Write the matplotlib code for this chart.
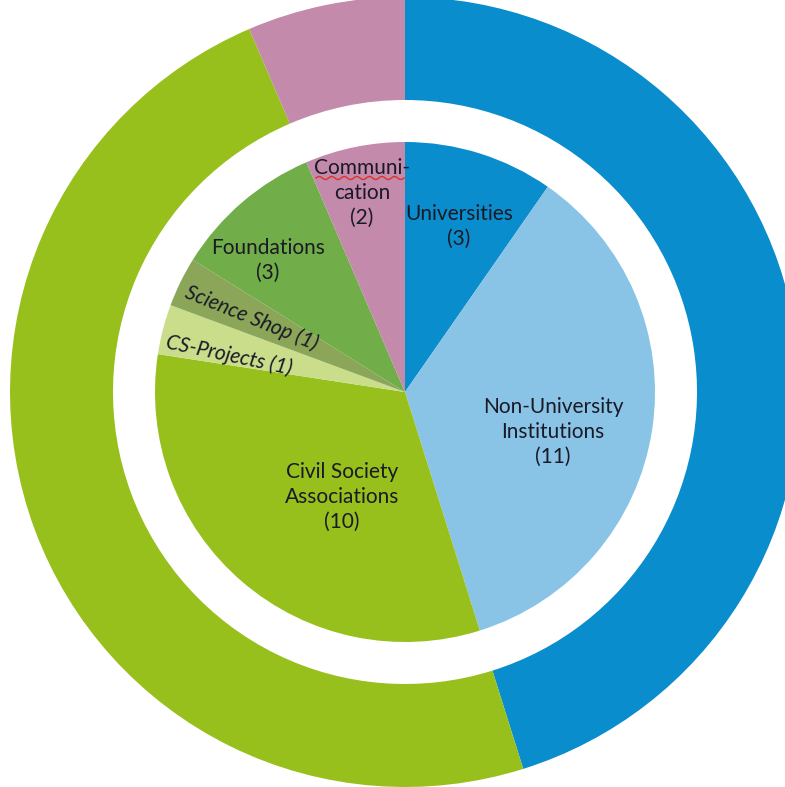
import matplotlib.pyplot as plt
import numpy as np

# inner pie, clockwise from 12 o'clock
inner_labels = ['Universities\n(3)', 'Non-University\nInstitutions\n(11)',
                'Civil Society\nAssociations\n(10)', 'CS-Projects (1)',
                'Science Shop (1)', 'Foundations\n(3)', 'Communi-\ncation\n(2)']
inner_values = [3, 11, 10, 1, 1, 3, 2]
inner_colors = ['#0a8dcd', '#89c3e5', '#97c01c', '#c9dd8b', '#8ba659', '#71ad48', '#c38aab']

# outer ring: groups of the inner slices
groups = [[0, 1], [2, 3, 4, 5], [6]]
outer_values = [sum(inner_values[i] for i in g) for g in groups]
outer_colors = ['#0a8dcd', '#97c01c', '#c38aab']

W, H = 785, 787
cx, cy = 405, H - 392

fig = plt.figure(figsize=(W / 100, H / 100), dpi=100)
ax = fig.add_axes([0, 0, 1, 1])

ax.pie(outer_values, colors=outer_colors, startangle=90, counterclock=False,
       radius=395, center=(cx, cy), wedgeprops=dict(width=103, linewidth=0),
       frame=True)
ax.pie(inner_values, colors=inner_colors, startangle=90, counterclock=False,
       radius=250, center=(cx, cy), wedgeprops=dict(linewidth=0), frame=True)
ax.set_xlim(0, W)
ax.set_ylim(0, H)
ax.set_aspect('equal')
ax.axis('off')

# label spots (pixel, from top-left) and rotation
spots = [(459, 226, 0, 'normal'), (553, 432, 0, 'normal'), (342, 497, 0, 'normal'),
         (229, 355, -12, 'italic'), (252, 318, -22, 'italic'), (268, 260, 0, 'normal'),
         (362, 193, 0, 'normal')]
for lab, (x, y, rot, st) in zip(inner_labels, spots):
    ax.text(x, H - y, lab, ha='center', va='center', rotation=rot, style=st,
            family='Lato', fontsize=15, color='#1a1a26', linespacing=1.3,
            rotation_mode='anchor')

# spell-check squiggle under "Communi"
sx = np.linspace(316, 404, 120)
ax.plot(sx, H - 178 + 1.5 * np.sin((sx - 316) / 2.0), color='#e0302a', lw=1)

fig.savefig('out.png', dpi=100)
